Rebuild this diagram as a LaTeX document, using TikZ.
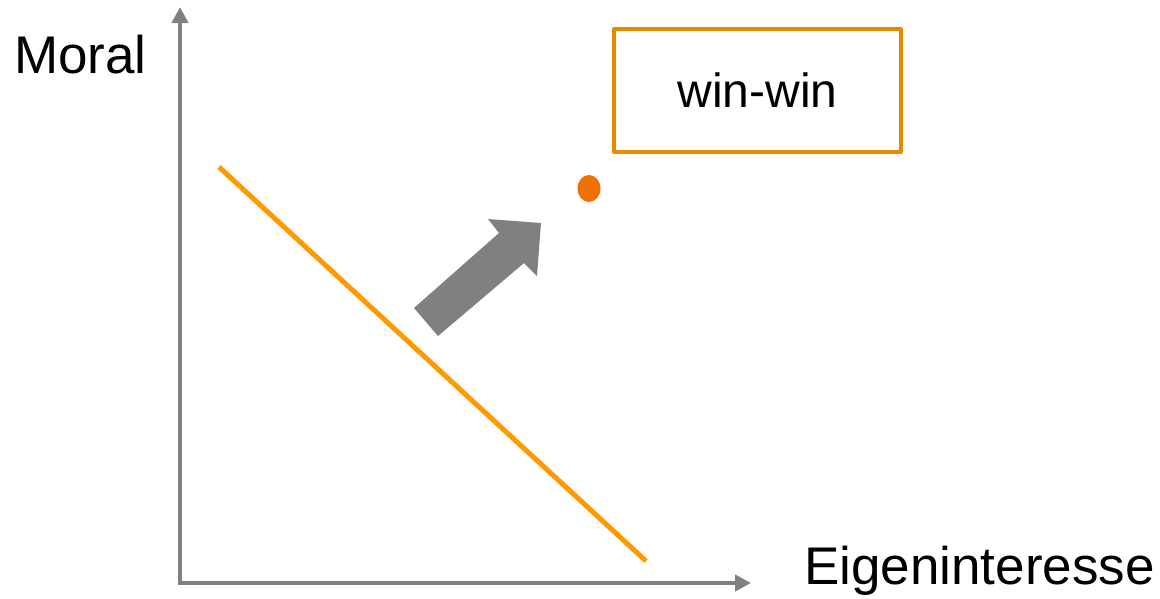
\documentclass[tikz,border=0pt]{standalone}
\usepackage{fontspec}
\setmainfont{Liberation Sans}
\usepackage{xcolor}
\usepackage{tikz}
\usetikzlibrary{arrows.meta}
\definecolor{axis}{HTML}{808080}
\definecolor{amber}{HTML}{FF9900}
\definecolor{boxline}{HTML}{E88A00}
\definecolor{dotc}{HTML}{EE7203}
\tikzset{fig/.style={line join=round,x=1pt,y=-1pt},
  lbl/.style={inner sep=0pt,font=\fontsize{53}{60}\selectfont}}

\begin{document}
\begin{tikzpicture}[fig]
  \useasboundingbox(0,0)rectangle(1160,598);
  \coordinate(O)at(180,583);
  \coordinate(ytip)at(180,7);
  \coordinate(xtip)at(751,583);
  \draw[axis,line width=4pt,-{Triangle[length=16pt,width=16pt]}](180,585)--(ytip);
  \draw[axis,line width=4pt,-{Triangle[length=16pt,width=16pt]}](178,583)--(xtip);
  \node[lbl,anchor=base west](moral)at(14,73){Moral};
  \node[lbl,anchor=base west](eigen)at(804,584){Eigeninteresse};
  % trade-off line
  \coordinate(lineA)at(219,167);
  \coordinate(lineB)at(646,561);
  \draw[amber,line width=5pt](lineA)--(lineB);
  % shift towards win-win
  \fill[axis](414,308)--(499,233)--(488,219)--(541,223)--(537,276)--(524,263)--(438,336)--cycle;
  \fill[dotc](589,188.5)ellipse[x radius=11.5,y radius=13.5];
  \node[draw=boxline,line width=4pt,minimum width=287pt,minimum height=123pt,
    font=\fontsize{48}{60}\selectfont](win)at(757.5,90.5){win-win};
\end{tikzpicture}
\end{document}
